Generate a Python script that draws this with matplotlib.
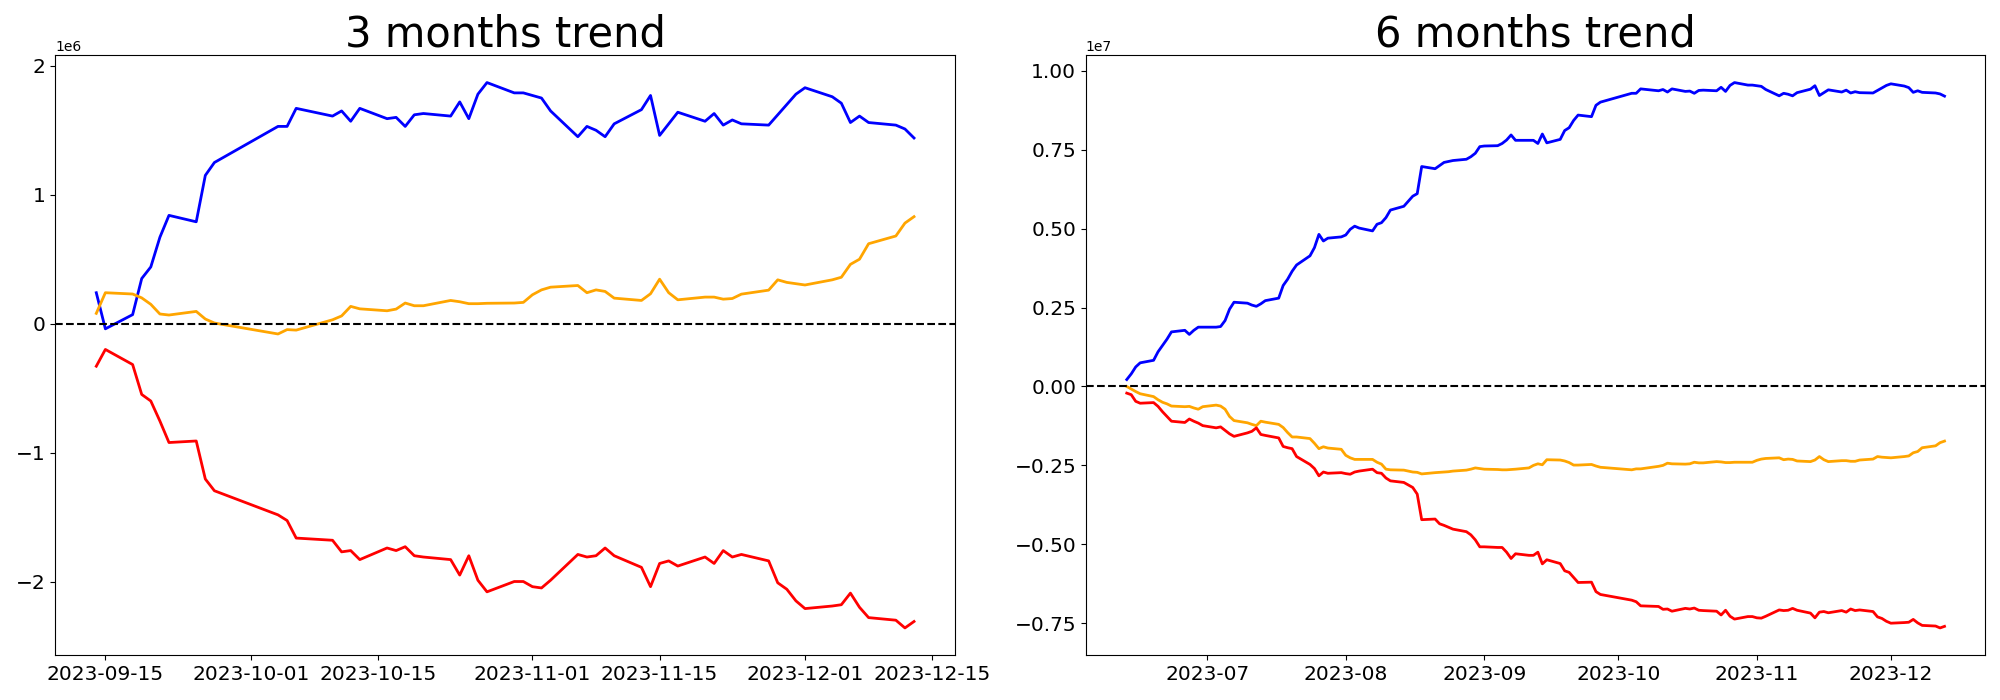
import numpy as np
import pandas as pd
import matplotlib
matplotlib.use("Agg")
import matplotlib.pyplot as plt
import matplotlib.dates as mdates

# 거래일 달력 (한국 증시 휴장일 제외)
holidays = ["2023-08-15", "2023-09-28", "2023-09-29", "2023-10-02", "2023-10-03", "2023-10-09"]
dates_6m = pd.bdate_range("2023-06-13", "2023-12-13").drop(pd.to_datetime(holidays))
dates_3m = dates_6m[dates_6m >= "2023-09-14"]

# 3개월 누적 (단위 1e6)
blue_3m = [
    0.24, -0.04, 0.07, 0.35, 0.44, 0.67, 0.84, 0.79, 1.15, 1.25,
    1.53, 1.53, 1.67, 1.61, 1.65, 1.57, 1.67, 1.59, 1.60, 1.53,
    1.62, 1.63, 1.61, 1.72, 1.59, 1.78, 1.87, 1.79, 1.79,
    1.77, 1.75, 1.65, 1.45, 1.53, 1.50, 1.45, 1.55, 1.66, 1.77,
    1.46, 1.55, 1.64, 1.57, 1.63, 1.54, 1.58, 1.55, 1.54, 1.62, 1.70, 1.78,
    1.83, 1.76, 1.71, 1.56, 1.61, 1.56, 1.54, 1.51, 1.44,
]
orange_3m = [
    0.08, 0.24, 0.23, 0.20, 0.15, 0.075, 0.067, 0.095, 0.036, 0.005,
    -0.08, -0.046, -0.05, 0.03, 0.06, 0.134, 0.115, 0.10, 0.113, 0.16,
    0.139, 0.139, 0.18, 0.17, 0.155, 0.155, 0.158, 0.16, 0.165,
    0.224, 0.262, 0.283, 0.296, 0.24, 0.262, 0.25, 0.198, 0.18, 0.232,
    0.345, 0.24, 0.185, 0.206, 0.206, 0.19, 0.195, 0.229, 0.26, 0.34, 0.32, 0.31,
    0.30, 0.34, 0.36, 0.46, 0.50, 0.62, 0.68, 0.78, 0.83,
]
red_3m = [
    -0.33, -0.20, -0.317, -0.549, -0.60, -0.755, -0.922, -0.91, -1.205, -1.296,
    -1.483, -1.527, -1.663, -1.68, -1.77, -1.76, -1.83, -1.74, -1.76, -1.73,
    -1.80, -1.81, -1.83, -1.95, -1.80, -1.99, -2.08, -2.00, -2.00,
    -2.04, -2.05, -1.99, -1.79, -1.81, -1.80, -1.74, -1.80, -1.89, -2.04,
    -1.86, -1.84, -1.88, -1.81, -1.86, -1.76, -1.81, -1.79, -1.84, -2.01, -2.06, -2.15,
    -2.21, -2.19, -2.18, -2.09, -2.20, -2.28, -2.30, -2.36, -2.31,
]

# 6개월 누적 (단위 1e7)
blue_6m = [
    0.022, 0.040, 0.062, 0.075, 0.083, 0.110, 0.130, 0.150, 0.173, 0.178, 0.165, 0.178, 0.188, 0.188,
    0.188, 0.190, 0.209, 0.245, 0.267, 0.264, 0.258, 0.254, 0.262, 0.272, 0.280, 0.320, 0.340, 0.365,
    0.385, 0.414, 0.440, 0.482, 0.461, 0.470, 0.474,
    0.480, 0.498, 0.508, 0.502, 0.493, 0.514, 0.519, 0.535, 0.559, 0.571, 0.603, 0.611, 0.697, 0.690,
    0.700, 0.710, 0.713, 0.716, 0.720, 0.728, 0.739, 0.760,
    0.762, 0.763, 0.770, 0.781, 0.797, 0.780, 0.780, 0.780, 0.770,
    0.800, 0.772, 0.783, 0.811, 0.820, 0.843, 0.860, 0.855, 0.891, 0.901,
    0.929, 0.929, 0.943, 0.937, 0.941, 0.933, 0.943, 0.935, 0.936, 0.929,
    0.938, 0.939, 0.937, 0.948, 0.935, 0.954, 0.963, 0.955, 0.955,
    0.953, 0.951, 0.941, 0.921, 0.929, 0.926, 0.921, 0.931, 0.942, 0.953,
    0.922, 0.931, 0.940, 0.933, 0.939, 0.930, 0.934, 0.931, 0.930, 0.938, 0.946, 0.954,
    0.959, 0.952, 0.947, 0.932, 0.937, 0.932, 0.930, 0.927, 0.920,
]
orange_6m = [
    0.000, -0.008, -0.016, -0.023, -0.032, -0.042, -0.050, -0.055, -0.062, -0.064, -0.063, -0.068, -0.072, -0.064,
    -0.059, -0.062, -0.072, -0.095, -0.108, -0.115, -0.120, -0.124, -0.110, -0.113, -0.120, -0.130, -0.146, -0.160,
    -0.160, -0.165, -0.180, -0.197, -0.191, -0.195, -0.199,
    -0.218, -0.226, -0.231, -0.231, -0.231, -0.240, -0.246, -0.262, -0.264, -0.265, -0.271, -0.272, -0.277, -0.273,
    -0.272, -0.271, -0.270, -0.268, -0.265, -0.262, -0.258, -0.260,
    -0.262, -0.263, -0.264, -0.264, -0.263, -0.262, -0.258, -0.250, -0.245,
    -0.248, -0.232, -0.233, -0.236, -0.241, -0.249, -0.249, -0.247, -0.252, -0.256,
    -0.264, -0.261, -0.261, -0.253, -0.250, -0.243, -0.245, -0.246, -0.245, -0.240,
    -0.242, -0.242, -0.238, -0.239, -0.241, -0.241, -0.240, -0.240, -0.240,
    -0.234, -0.230, -0.228, -0.226, -0.232, -0.230, -0.231, -0.236, -0.238, -0.233,
    -0.222, -0.232, -0.238, -0.235, -0.235, -0.237, -0.237, -0.233, -0.230, -0.222, -0.224, -0.225,
    -0.226, -0.222, -0.220, -0.210, -0.206, -0.194, -0.188, -0.178, -0.173,
]
red_6m = [
    -0.021, -0.026, -0.047, -0.053, -0.051, -0.063, -0.080, -0.095, -0.110, -0.114, -0.103, -0.110, -0.116, -0.124,
    -0.131, -0.128, -0.139, -0.150, -0.158, -0.147, -0.142, -0.131, -0.152, -0.155, -0.163, -0.190, -0.194, -0.197,
    -0.222, -0.247, -0.260, -0.283, -0.271, -0.275, -0.273,
    -0.276, -0.278, -0.271, -0.268, -0.262, -0.273, -0.275, -0.290, -0.299, -0.304, -0.320, -0.341, -0.422, -0.420,
    -0.435, -0.440, -0.446, -0.452, -0.460, -0.470, -0.486, -0.508,
    -0.508, -0.510, -0.510, -0.525, -0.545, -0.530, -0.535, -0.535, -0.525,
    -0.562, -0.549, -0.561, -0.584, -0.589, -0.605, -0.621, -0.620, -0.650, -0.659,
    -0.677, -0.682, -0.695, -0.697, -0.706, -0.705, -0.712, -0.703, -0.705, -0.702,
    -0.709, -0.710, -0.712, -0.724, -0.709, -0.728, -0.737, -0.729, -0.729,
    -0.733, -0.734, -0.728, -0.708, -0.710, -0.709, -0.703, -0.709, -0.718, -0.733,
    -0.715, -0.713, -0.717, -0.710, -0.715, -0.705, -0.710, -0.708, -0.713, -0.730, -0.735, -0.744,
    -0.750, -0.748, -0.747, -0.738, -0.749, -0.757, -0.759, -0.765, -0.760,
]

colors = ["blue", "orange", "red"]


def plot_trend(ax, dates, series, scale, title):
    """누적 추이 세 줄 + 0 기준선"""
    for values, color in zip(series, colors):
        ax.plot(dates, np.array(values) * scale, color=color, linewidth=2)
    ax.axhline(y=0, color="black", linestyle="--", linewidth=1.5)
    ax.set_title(title, fontsize=30)
    ax.tick_params(labelsize=14.5)


fig, (ax1, ax2) = plt.subplots(1, 2, figsize=(20, 7))
fig.subplots_adjust(left=0.0277, right=0.9927, bottom=0.064, top=0.921, wspace=0.1456)

plot_trend(ax1, dates_3m, [blue_3m, orange_3m, red_3m], 1e6, "3 months trend")
ax1.xaxis.set_major_locator(mdates.DayLocator(bymonthday=[1, 15]))
ax1.xaxis.set_major_formatter(mdates.DateFormatter("%Y-%m-%d"))

plot_trend(ax2, dates_6m, [blue_6m, orange_6m, red_6m], 1e7, "6 months trend")
ax2.xaxis.set_major_locator(mdates.MonthLocator())
ax2.xaxis.set_major_formatter(mdates.DateFormatter("%Y-%m"))

fig.savefig("out.png", dpi=100)
